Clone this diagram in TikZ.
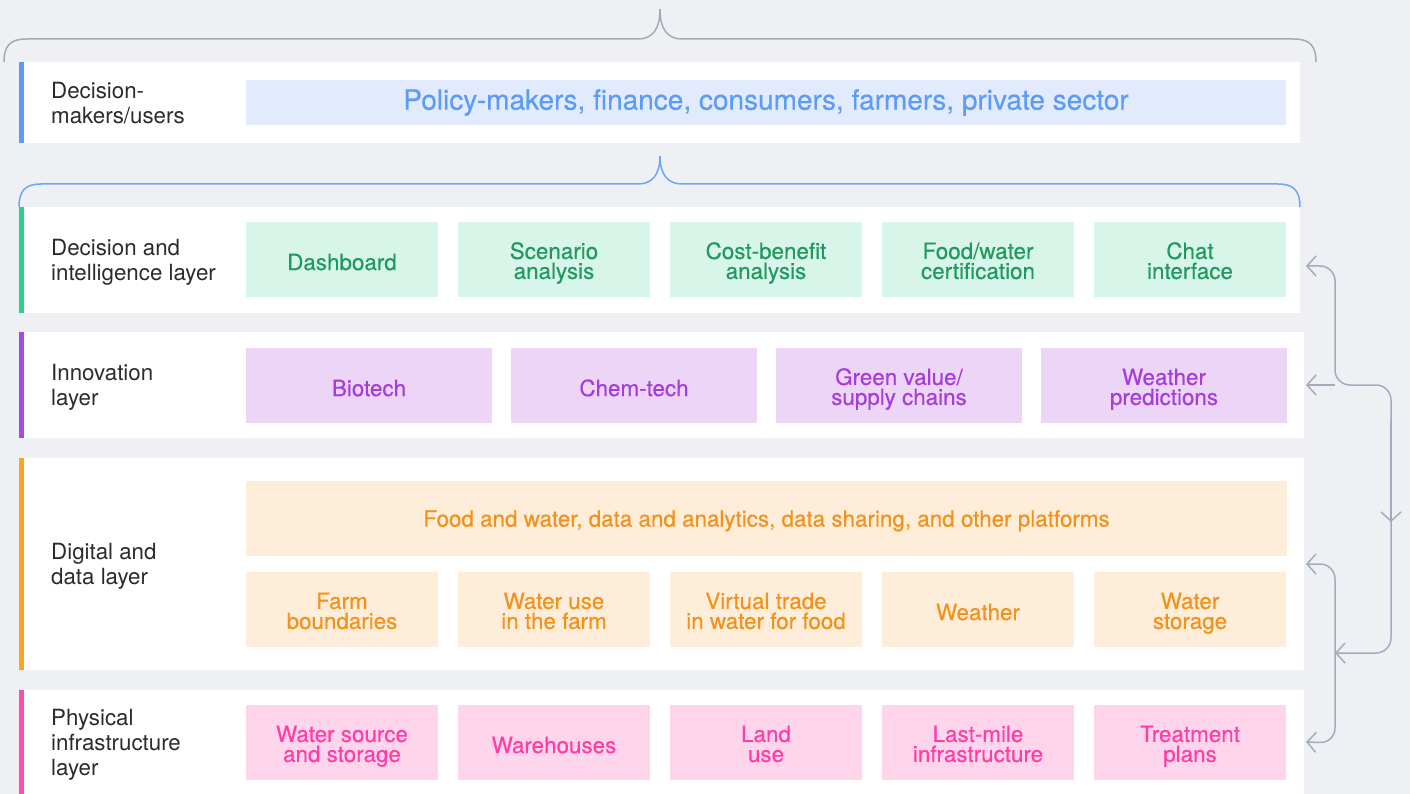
\documentclass[tikz,border=0pt]{standalone}
\usepackage{fontspec}
\setmainfont{TeX Gyre Heros}
\newfontfamily\tilefont[FakeBold=0.35]{TeX Gyre Heros}
\usepackage{xcolor}
\usetikzlibrary{arrows.meta, positioning, calc}
\definecolor{pagebg}{HTML}{EFF0F4}
\definecolor{inkgray}{HTML}{2B2B2B}
\definecolor{flowgray}{HTML}{A3ABBE}
\definecolor{bracegray}{HTML}{A5AAB8}
\definecolor{userblue}{HTML}{5C9CF7}
\definecolor{userfill}{HTML}{E1EBFD}
\definecolor{decgreen}{HTML}{1F9960}
\definecolor{decstripe}{HTML}{27D38A}
\definecolor{decfill}{HTML}{D7F6E9}
\definecolor{innpurple}{HTML}{A63CDB}
\definecolor{innstripe}{HTML}{A64BDF}
\definecolor{innfill}{HTML}{ECD5F7}
\definecolor{digorange}{HTML}{F3911A}
\definecolor{digstripe}{HTML}{FFA222}
\definecolor{digfill}{HTML}{FEEDD9}
\definecolor{phypink}{HTML}{FF3DA5}
\definecolor{phystripe}{HTML}{FF4CAF}
\definecolor{phyfill}{HTML}{FFD5EC}

\begin{document}
\begin{tikzpicture}[
        x=1pt, y=-1pt,
        node distance=20pt,
        panel/.style={fill=white, anchor=north west, outer sep=0pt, inner sep=0pt},
        layername/.style={anchor=west, align=left, inner sep=0pt, text=inkgray, font=\fontsize{22.3}{25}\selectfont, text depth=6pt, text height=47.2pt},
        threeline/.style={text height=72.2pt},
        tile/.style={align=center, outer sep=0pt, inner sep=2pt, minimum height=75pt, font=\tilefont\fontsize{22.4}{20}\selectfont, text depth=6pt, text height=27.2pt},
        twoline/.style={text height=44.9pt},
        dectile/.style={tile, fill=decfill, text=decgreen, minimum width=192pt},
        inntile/.style={tile, fill=innfill, text=innpurple, minimum width=246pt},
        digtile/.style={tile, fill=digfill, text=digorange, minimum width=192pt},
        phytile/.style={tile, fill=phyfill, text=phypink, minimum width=192pt},
        flow/.style={{Straight Barb[length=9pt, width=20pt]}-{Straight Barb[length=9pt, width=20pt]}, draw=flowgray, line width=1.5pt, rounded corners=15pt},
        brace/.style={line width=1.5pt}
    ]
        \useasboundingbox (0,0) rectangle (1410,794);
        \fill[pagebg] (0,0) rectangle (1410,794);

        % layer panels
        \node[panel, minimum width=1281pt, minimum height=81pt] (dm) at (19,62) {};
        \node[panel, minimum width=1281pt, minimum height=106pt] (dil) at (19,207) {};
        \node[panel, minimum width=1285pt, minimum height=106pt] (inn) at (19,332) {};
        \node[panel, minimum width=1285pt, minimum height=212pt] (dig) at (19,458) {};
        \node[panel, minimum width=1285pt, minimum height=104pt] (phy) at (19,690) {};

        \fill[userblue] (dm.north west) rectangle ([xshift=5pt]dm.south west);
        \fill[decstripe] (dil.north west) rectangle ([xshift=5pt]dil.south west);
        \fill[innstripe] (inn.north west) rectangle ([xshift=5pt]inn.south west);
        \fill[digstripe] (dig.north west) rectangle ([xshift=5pt]dig.south west);
        \fill[phystripe] (phy.north west) rectangle ([xshift=5pt]phy.south west);

        \node[layername] (dmname) at (51,102.5) {Decision-\\makers/users};
        \node[layername] (dilname) at (51,260) {Decision and\\intelligence layer};
        \node[layername] (innname) at (51,385) {Innovation\\layer};
        \node[layername] (digname) at (51,564) {Digital and\\data layer};
        \node[layername, threeline] (phyname) at (51,742) {Physical\\infrastructure\\layer};

        % users
        \node[tile, anchor=north west, fill=userfill, text=userblue, minimum width=1040pt, minimum height=45pt,
              font=\tilefont\fontsize{28}{30}\selectfont, text height=20.4pt] (users) at (246,80) {Policy-makers, finance, consumers, farmers, private sector};

        % decision and intelligence
        \node[dectile, anchor=west] (dash) at (246,259.5) {Dashboard};
        \node[dectile, twoline, right=of dash] (scen) {Scenario\\analysis};
        \node[dectile, twoline, right=of scen] (cba) {Cost-benefit\\analysis};
        \node[dectile, twoline, right=of cba] (cert) {Food/water\\certification};
        \node[dectile, twoline, right=of cert] (chat) {Chat\\interface};

        % innovation
        \node[inntile, anchor=west] (bio) at (246,385.5) {Biotech};
        \node[inntile, right=19pt of bio] (chem) {Chem-tech};
        \node[inntile, twoline, right=19pt of chem] (green) {Green value/\\supply chains};
        \node[inntile, twoline, right=19pt of green] (wpred) {Weather\\predictions};

        % digital and data
        \node[digtile, anchor=north west, minimum width=1041pt, text height=22.2pt] (plat) at (246,481) {Food and water, data and analytics, data sharing, and other platforms};
        \node[digtile, twoline, anchor=west] (farm) at (246,609.5) {Farm\\boundaries};
        \node[digtile, twoline, right=of farm] (wuse) {Water use\\in the farm};
        \node[digtile, twoline, right=of wuse] (vtrade) {Virtual trade\\in water for food};
        \node[digtile, right=of vtrade] (weather) {Weather};
        \node[digtile, twoline, right=of weather] (wstore) {Water\\storage};

        % physical infrastructure
        \node[phytile, twoline, anchor=west] (wsrc) at (246,742.5) {Water source\\and storage};
        \node[phytile, right=of wsrc] (ware) {Warehouses};
        \node[phytile, twoline, right=of ware] (land) {Land\\use};
        \node[phytile, twoline, right=of land] (lastmile) {Last-mile\\infrastructure};
        \node[phytile, twoline, right=of lastmile] (treat) {Treatment\\plans};

        % braces
        \draw[brace, bracegray] (4,62) .. controls (4,46) and (10,39) .. (26,39) -- (638,39)
            .. controls (652,39) and (660,30) .. (660,9)
            .. controls (660,30) and (668,39) .. (682,39) -- (1294,39)
            .. controls (1310,39) and (1316,46) .. (1316,62);
        \draw[brace, userblue!90] (dil.north west) .. controls (19,191) and (25,184) .. (41,184) -- (638,184)
            .. controls (652,184) and (660,175) .. (660,156)
            .. controls (660,175) and (668,184) .. (682,184) -- (1278,184)
            .. controls (1294,184) and (1300,191) .. (dil.north east);

        % feedback loop on the right
        \coordinate (fork) at (1335,385);
        \coordinate (hub) at (1391,385);
        \coordinate (drop) at (1391,653);
        \coordinate (bus) at (1335,653);
        \coordinate (midtip) at (1391,522);

        \draw[flow] ([shift={(6,6)}]dil.east) -- (1335,266) -- (fork) -- (hub) -- (drop) -- (bus);
        \draw[flow, {Straight Barb[length=9pt, width=20pt]}-] ([xshift=2pt]inn.east) -- (fork);
        \draw[flow, {Straight Barb[length=9pt, width=20pt]}-] (midtip) -- (1391,420);
        \draw[flow] ([xshift=2pt]dig.east) -- (1335,564) -- (1335,743) -- ([xshift=2pt]phy.east);
    \end{tikzpicture}
\end{document}
